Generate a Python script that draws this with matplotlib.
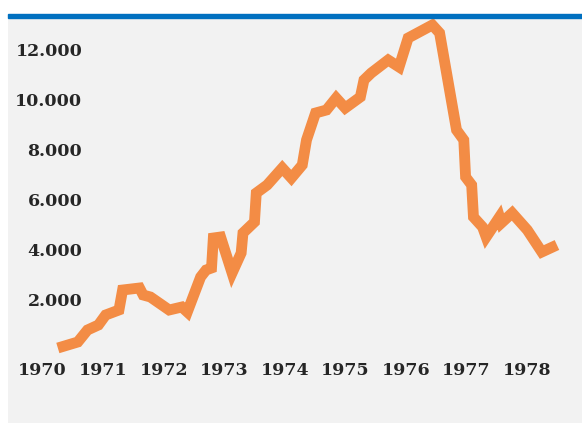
import matplotlib
matplotlib.use("Agg")
import matplotlib.pyplot as plt
from matplotlib.patches import Rectangle

# data (decimal year, value)
years = [1970.25, 1970.58, 1970.74, 1970.92, 1971.04, 1971.26, 1971.32, 1971.60,
         1971.66, 1971.78, 1972.09, 1972.30, 1972.39, 1972.61, 1972.70, 1972.79,
         1972.82, 1972.94, 1973.13, 1973.28, 1973.31, 1973.50, 1973.53, 1973.71,
         1973.96, 1974.11, 1974.29, 1974.36, 1974.51, 1974.69, 1974.85, 1975.00,
         1975.25, 1975.31, 1975.43, 1975.71, 1975.89, 1976.04, 1976.44, 1976.56,
         1976.84, 1976.96, 1976.99, 1977.09, 1977.12, 1977.27, 1977.33, 1977.55,
         1977.58, 1977.76, 1978.01, 1978.25, 1978.50]
values = [80, 320, 800, 1000, 1400, 1600, 2400, 2480,
          2200, 2120, 1600, 1720, 1520, 2920, 3200, 3280,
          4480, 4520, 3080, 3880, 4680, 5120, 6280, 6600,
          7280, 6880, 7400, 8400, 9480, 9600, 10080, 9680,
          10120, 10800, 11080, 11600, 11320, 12480, 13000, 12680,
          8800, 8400, 6920, 6600, 5320, 4920, 4520, 5320,
          5080, 5480, 4800, 3920, 4200]

x_ticks = [1970, 1971, 1972, 1973, 1974, 1975, 1976, 1977, 1978]
x_labels = ["1970", "1971", "1972", "1973", "1974", "1975", "1976", "1977", "1978"]
y_ticks = [2000, 4000, 6000, 8000, 10000, 12000]
y_labels = ["2.000", "4.000", "6.000", "8.000", "10.000", "12.000"]

W, H = 582, 423
fig = plt.figure(figsize=(W / 100, H / 100), dpi=100)
fig.patch.set_facecolor("white")

# axes covering gray panel: px x 8..582, y 18..423
ax = fig.add_axes([8 / W, 0, 574 / W, (H - 18) / H])
ax.set_facecolor("#f2f2f2")
ax.set_xlim(1969.426, 1978.914)
ax.set_ylim(-2920, 13280)
for s in ax.spines.values():
    s.set_visible(False)

ax.plot(years, values, color="#f38c45", lw=7.8, solid_joinstyle="miter",
        solid_capstyle="butt")

font = dict(family="DejaVu Serif", weight="bold", size=12.5, color="#262626")
ax.set_yticks(y_ticks)
ax.set_yticklabels(y_labels, **font)
ax.set_xticks(x_ticks)
ax.set_xticklabels(x_labels, **font)
ax.tick_params(axis="y", length=0, pad=-53.5)
ax.tick_params(axis="x", length=0, pad=-44)

# blue header rule
fig.patches.append(Rectangle((8 / W, (H - 18.5) / H), 574 / W, 4.5 / H,
                             transform=fig.transFigure, color="#0070c0",
                             zorder=5))

fig.savefig("out.png", dpi=100)
